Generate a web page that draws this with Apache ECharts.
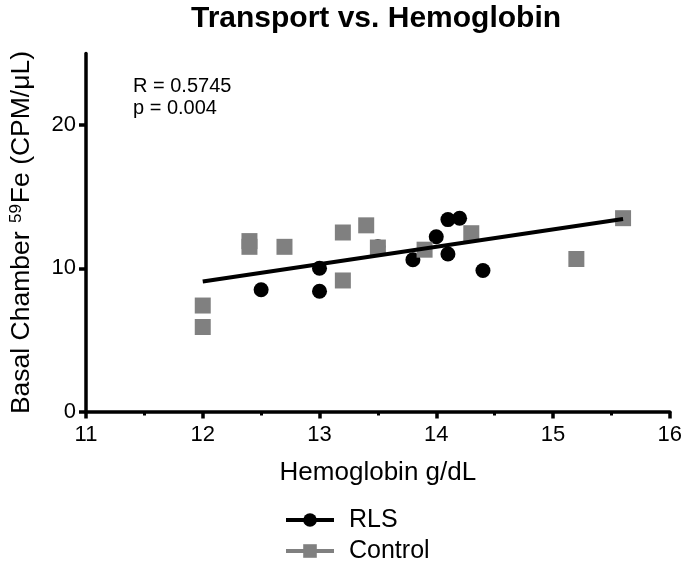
<!DOCTYPE html>
<html>
<head>
<meta charset="utf-8">
<script src="https://cdn.jsdelivr.net/npm/echarts@6/dist/echarts.min.js"></script>
<style>html,body{margin:0;padding:0;background:#fff}#c{width:685px;height:568px}</style>
</head>
<body>
<div id="c"></div>
<script>
const FONT = 'Arial, "Liberation Sans", sans-serif';
const titleText = 'Transport vs. Hemoglobin';
const xName = 'Hemoglobin g/dL';
const statLines = ['R = 0.5745', 'p = 0.004'];
const xTicks = [11, 12, 13, 14, 15, 16];
const yTicks = [0, 10, 20];
const rlsX = [12.5, 13.0, 13.0, 13.5, 13.8, 14.0, 14.1, 14.2, 14.1, 14.4];
const rlsY = [8.5, 10.0, 8.4, 11.5, 10.6, 12.2, 13.4, 13.5, 11.0, 9.85];
const ctlX = [12.0, 12.0, 12.4, 12.4, 12.7, 13.2, 13.2, 13.4, 13.5, 13.9, 14.3, 15.2, 15.6];
const ctlY = [7.4, 5.9, 11.9, 11.5, 11.5, 12.5, 9.15, 13.0, 11.45, 11.3, 12.45, 10.65, 13.5];
const fitX = [12.0, 15.6];
const fitY = [9.08, 13.44];

const zip = (a, b) => a.map((v, i) => [v, b[i]]);
const chart = echarts.init(document.getElementById('c'), null, {renderer: 'canvas'});
chart.setOption({
  animation: false,
  backgroundColor: '#fff',
  title: {
    text: titleText, left: 191, top: 0, padding: [4, 0, 0, 0],
    textStyle: {fontFamily: FONT, fontSize: 30, fontWeight: 'bold', color: '#000'}
  },
  grid: {left: 86, right: 13, top: 53.5, bottom: 156.5, containLabel: false},
  xAxis: {
    type: 'value', min: 11, max: 16, interval: 1,
    name: xName, nameLocation: 'middle', nameGap: 48,
    nameTextStyle: {fontFamily: FONT, fontSize: 26, color: '#000'},
    axisLine: {lineStyle: {color: '#000', width: 3.5}},
    axisTick: {length: 7, lineStyle: {color: '#000', width: 3.5}},
    minorTick: {show: true, splitNumber: 2, length: 4, lineStyle: {color: '#000', width: 3}},
    splitLine: {show: false},
    axisLabel: {fontFamily: FONT, fontSize: 22, color: '#000', margin: 12},
    data: xTicks
  },
  yAxis: {
    type: 'value', min: 0, max: 25, interval: 10,
    name: '{a|Basal Chamber }{s|59}{a|Fe (CPM/μL)}', nameLocation: 'middle', nameGap: 50, nameRotate: 90,
    nameTextStyle: {fontFamily: FONT, color: '#000', rich: {
      a: {fontFamily: FONT, fontSize: 26.5, color: '#000', lineHeight: 28},
      s: {fontFamily: FONT, fontSize: 17, color: '#000', lineHeight: 28, verticalAlign: 'top', padding: [0, 1, 10, 1]}
    }},
    axisLine: {lineStyle: {color: '#000', width: 3.5}},
    axisTick: {length: 7, lineStyle: {color: '#000', width: 3.5}, customValues: yTicks},
    splitLine: {show: false},
    axisLabel: {fontFamily: FONT, fontSize: 22, color: '#000', margin: 10, customValues: yTicks}
  },
  legend: {
    orient: 'vertical', left: 284, top: 507, padding: 0, itemWidth: 48, itemHeight: 17, itemGap: 5,
    data: ['RLS', 'Control'],
    textStyle: {fontFamily: FONT, fontSize: 25, color: '#000', lineHeight: 26, padding: [0, 0, 0, 10]},
    lineStyle: {opacity: 1, width: 4}
  },
  graphic: [{
    type: 'text', left: 133, top: 75,
    style: {text: statLines.join('\n'), font: '20px ' + FONT, fill: '#000', lineHeight: 22}
  }],
  series: [
    {name: 'RLS', type: 'line', data: zip(rlsX, rlsY), symbol: 'circle', symbolSize: 15,
     itemStyle: {color: '#000'}, lineStyle: {color: '#000', width: 4, opacity: 0}, z: 3},
    {name: 'Control', type: 'line', data: zip(ctlX, ctlY), symbol: 'rect', symbolSize: 16,
     itemStyle: {color: '#808080'}, lineStyle: {color: '#808080', width: 4, opacity: 0}, z: 4},
    {name: 'fit', type: 'line', data: zip(fitX, fitY), symbol: 'none',
     lineStyle: {color: '#000', width: 4}, z: 5}
  ]
});
</script>
</body>
</html>
